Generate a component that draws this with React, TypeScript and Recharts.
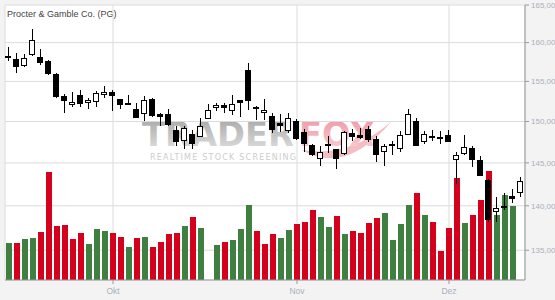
import { Bar, CartesianGrid, Cell, ComposedChart, XAxis, YAxis } from "recharts";

// Tageskerzen Procter & Gamble, Mitte September bis Mitte Dezember
const opens = [
  158.2, 157.9, 157.0, 158.4, 158.1, 157.6, 156.0, 153.2, 152.0, 153.3,
  152.3, 152.4, 153.3, 153.6, 152.8, 152.0, 151.5, 150.9, 152.8, 150.9,
  150.9, 149.0, 147.6, 148.5, 148.1, 150.3, 151.7, 152.0, 151.3, 152.6,
  156.5, 151.8, 151.1, 150.7, 149.8, 148.8, 150.1, 148.7, 147.1, 145.5,
  147.1, 146.6, 146.1, 148.6, 148.3, 149.1, 147.85, 146.35, 147.15, 146.7,
  148.35, 150.05, 147.45, 148.0, 147.85, 148.35, 145.4, 146.1, 146.75, 145.35,
  143.0, 139.25, 139.95, 141.1, 141.5,
];
const highs = [
  159.4, 158.7, 158.5, 161.8, 159.1, 157.7, 156.1, 153.4, 153.6, 153.9,
  152.85, 153.8, 154.4, 153.9, 152.8, 153.3, 152.3, 153.2, 152.9, 151.0,
  151.6, 149.5, 149.4, 149.0, 150.4, 152.1, 152.3, 152.3, 153.3, 152.7,
  157.4, 151.9, 152.8, 151.0, 150.9, 151.0, 150.3, 149.1, 147.3, 147.05,
  148.2, 146.7, 148.8, 149.1, 149.2, 149.5, 148.2, 147.25, 147.65, 148.8,
  151.6, 150.4, 148.8, 149.0, 148.8, 149.0, 146.35, 148.4, 147.06, 145.8,
  143.1, 141.0, 141.5, 141.9, 143.3,
];
const lows = [
  157.6, 156.1, 156.8, 158.3, 157.1, 155.8, 152.9, 151.0, 151.75, 151.75,
  151.5, 151.75, 152.85, 151.3, 151.6, 152.0, 150.4, 150.0, 150.6, 149.5,
  149.4, 147.0, 146.6, 146.6, 148.1, 150.3, 151.3, 151.1, 150.8, 150.6,
  151.4, 150.2, 150.2, 148.6, 148.7, 148.6, 147.8, 146.35, 145.8, 144.6,
  146.2, 144.3, 145.9, 147.6, 147.85, 147.5, 145.1, 144.6, 145.9, 146.3,
  148.35, 147.0, 147.26, 147.6, 147.26, 147.5, 142.5, 145.9, 144.5, 143.45,
  138.1, 138.1, 139.55, 140.3, 141.0,
];
const closes = [
  158.0, 156.8, 158.0, 160.4, 157.3, 156.0, 153.0, 152.5, 152.4, 152.1,
  152.6, 153.5, 153.6, 153.1, 152.0, 152.3, 150.4, 152.7, 150.7, 150.6,
  149.6, 147.5, 149.2, 147.3, 149.5, 151.4, 152.0, 151.7, 152.2, 152.3,
  152.5, 151.6, 151.4, 149.0, 149.5, 150.4, 147.9, 147.2, 145.9, 146.35,
  147.0, 145.5, 148.7, 148.05, 147.95, 147.8, 145.9, 147.05, 147.1, 148.3,
  150.9, 147.05, 148.5, 148.25, 148.15, 147.5, 145.9, 146.9, 145.4, 143.5,
  138.4, 139.7, 139.8, 140.8, 142.9,
];
// Volumen in Mio. Stück (null = kein Wert)
const volumes: (number | null)[] = [
  3.7, 3.7, 4.1, 4.2, 4.8, 10.8, 5.4, 5.5, 4.1, 4.7,
  3.6, 5.1, 4.9, 4.7, 4.3, 3.3, 4.2, 4.3, 3.3, 3.8,
  4.6, 4.7, 5.4, 6.3, 5.2, null, 3.5, 3.8, 4.0, 5.1,
  7.5, 4.9, 3.6, 4.6, 4.2, 5.0, 5.6, 5.8, 7.0, 6.3,
  5.3, 6.4, 4.6, 4.9, 4.7, 5.7, 6.2, 6.7, 4.0, 5.6,
  7.5, 8.7, 6.5, 5.8, 2.9, 5.2, 10.2, 5.7, 6.5, 8.0,
  10.9, 6.5, 8.5, 7.4, null,
];
const prevClose = 157.8; // Schluss vor der ersten Kerze
const monthTicks = [13, 36, 55];
const monthLabels = ["Okt", "Nov", "Dez"];
const priceTicks = [135, 140, 145, 150, 155, 160, 165];

const UP = "#3f8040";
const DOWN = "#d4001c";

const data = opens.map((open, i) => ({
  i,
  open,
  high: highs[i],
  low: lows[i],
  close: closes[i],
  range: [lows[i], highs[i]],
  vol: volumes[i],
  up: closes[i] >= (i === 0 ? prevClose : closes[i - 1]),
}));

function Candle(props: any) {
  const { x, y, width, height, payload } = props;
  if (!payload || height == null || isNaN(y)) return null;
  const { open, close, high, low } = payload;
  const span = Math.log(high) - Math.log(low);
  const py = (v: number) =>
    span > 0 ? y + (height * (Math.log(high) - Math.log(v))) / span : y;
  const cx = Math.floor(x + width / 2) + 0.5;
  const top = Math.round(py(Math.max(open, close)));
  const bot = Math.round(py(Math.min(open, close)));
  const white = close > open;
  return (
    <g>
      <line x1={cx} x2={cx} y1={Math.round(y)} y2={Math.round(y + height)} stroke="#000" />
      {bot - top < 2 ? (
        <rect x={cx - 3.5} y={top - 1} width={6} height={2} fill="#000" />
      ) : (
        <rect
          x={cx - 3}
          y={top + 0.5}
          width={5}
          height={bot - top - 1}
          fill={white ? "#fff" : "#000"}
          stroke="#000"
        />
      )}
    </g>
  );
}

function Watermark() {
  return (
    <svg width={555} height={300} style={{ position: "absolute", left: 0, top: 0 }}>
      <defs>
        <linearGradient id="wmGray" x1="0" y1="0" x2="0" y2="1">
          <stop offset="0" stopColor="#a3a3a3" />
          <stop offset="1" stopColor="#e4e4e4" />
        </linearGradient>
        <linearGradient id="wmPink" x1="0" y1="0" x2="0" y2="1">
          <stop offset="0" stopColor="#ee95a0" />
          <stop offset="1" stopColor="#f8d4d9" />
        </linearGradient>
      </defs>
      <rect x={5} y={5} width={520} height={275} fill="#fff" />
      <text x={7} y={16.5} fontSize={9} fill="#444" fontFamily="'Liberation Sans', Arial, sans-serif">
        Procter &amp; Gamble Co. (PG)
      </text>
      <path d="M302 150 Q345 176 392 121 Q350 158 302 150 Z" fill="#f4bcc3" />
      <text
        x={142}
        y={146}
        fontSize={33}
        fontWeight="bold"
        fontFamily="'DejaVu Sans', sans-serif"
        textLength={152}
        lengthAdjust="spacingAndGlyphs"
        fill="url(#wmGray)"
      >
        TRADER
      </text>
      <text
        x={299}
        y={146}
        fontSize={33}
        fontWeight="bold"
        fontFamily="'DejaVu Sans', sans-serif"
        textLength={76}
        lengthAdjust="spacingAndGlyphs"
        fill="url(#wmPink)"
      >
        FOX
      </text>
      <text
        x={150}
        y={160}
        fontSize={8}
        fontFamily="'DejaVu Sans', sans-serif"
        textLength={146}
        lengthAdjust="spacing"
        fill="#cdcdcd"
      >
        REALTIME STOCK SCREENING
      </text>
    </svg>
  );
}

export default function App() {
  return (
    <div
      style={{
        position: "absolute",
        left: 0,
        top: 0,
        width: 555,
        height: 300,
        background: "#f3f3f3",
        fontFamily: "'Liberation Sans', Arial, sans-serif",
      }}
    >
      <Watermark />
      <div style={{ position: "absolute", left: 0, top: 0 }}>
        <ComposedChart
          width={555}
          height={300}
          data={data}
          margin={{ top: 5, right: 0, bottom: 0, left: 5 }}
          barCategoryGap={0}
          barGap={0}
        >
          <CartesianGrid xAxisId="c" yAxisId="price" stroke="#dcdcdc" />
          <XAxis
            xAxisId="c"
            dataKey="i"
            type="category"
            ticks={monthTicks}
            tickFormatter={(v) => monthLabels[monthTicks.indexOf(v)] ?? ""}
            height={20}
            stroke="#999"
            tickSize={4}
            tickMargin={4}
            tick={{ fill: "#a8b0bc", fontSize: 8.5 }}
          />
          <XAxis xAxisId="v" dataKey="i" type="category" hide />
          <YAxis
            yAxisId="price"
            orientation="right"
            scale="log"
            domain={[131.75, 165]}
            allowDataOverflow
            ticks={priceTicks}
            tickFormatter={(v) => Number(v).toFixed(2).replace(".", ",")}
            width={30}
            stroke="#999"
            tickSize={4}
            tick={{ fill: "#a8b0bc", fontSize: 8 }}
          />
          <YAxis yAxisId="vol" domain={[0, 27.5]} hide />
          <Bar
            xAxisId="v"
            yAxisId="vol"
            dataKey="vol"
            barSize={6}
            isAnimationActive={false}
          >
            {data.map((d) => (
              <Cell key={d.i} fill={d.up ? UP : DOWN} />
            ))}
          </Bar>
          <Bar
            xAxisId="c"
            yAxisId="price"
            dataKey="range"
            barSize={8}
            shape={Candle}
            isAnimationActive={false}
          />
        </ComposedChart>
      </div>
    </div>
  );
}
